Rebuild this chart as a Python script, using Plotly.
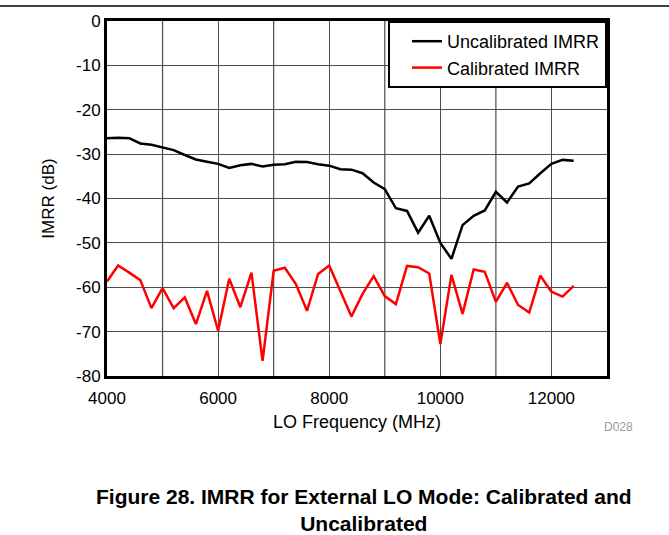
import plotly.graph_objects as go

freq_mhz = [4000, 4200, 4400, 4600, 4800, 5000, 5200, 5400, 5600, 5800,
            6000, 6200, 6400, 6600, 6800, 7000, 7200, 7400, 7600, 7800,
            8000, 8200, 8400, 8600, 8800, 9000, 9200, 9400, 9600, 9800,
            10000, 10200, 10400, 10600, 10800, 11000, 11200, 11400, 11600, 11800,
            12000, 12200, 12400]

uncalibrated_db = [-26.4, -26.3, -26.4, -27.6, -27.9, -28.5, -29.1, -30.2, -31.2, -31.7,
                   -32.2, -33.1, -32.5, -32.2, -32.8, -32.4, -32.3, -31.7, -31.8, -32.3,
                   -32.6, -33.4, -33.5, -34.3, -36.4, -37.9, -42.2, -42.8, -47.7, -43.9,
                   -50.0, -53.6, -46.0, -43.9, -42.7, -38.5, -40.9, -37.3, -36.6, -34.3,
                   -32.2, -31.3, -31.5]

calibrated_db = [-58.7, -55.1, -56.7, -58.4, -64.7, -60.2, -64.7, -62.3, -68.3, -60.8,
                 -69.8, -58.1, -64.5, -56.7, -76.6, -56.3, -55.6, -59.3, -65.3, -57.0,
                 -55.1, -61.0, -66.6, -61.5, -57.5, -62.0, -63.8, -55.2, -55.5, -56.9,
                 -72.8, -57.2, -66.0, -56.0, -56.5, -63.3, -59.0, -64.0, -65.7, -57.4,
                 -61.0, -62.1, -59.7]

x_ticks = [4000, 6000, 8000, 10000, 12000]
y_ticks = [0, -10, -20, -30, -40, -50, -60, -70, -80]

FONT = "Arial, Liberation Sans, sans-serif"
PL, PR, PT, PB = 107, 607, 21, 376   # plot-area pixel box
PW, PH = PR - PL, PB - PT

fig = go.Figure()
fig.add_trace(go.Scatter(x=freq_mhz, y=uncalibrated_db, mode="lines",
                         name="Uncalibrated IMRR",
                         line=dict(color="#000000", width=2.5)))
fig.add_trace(go.Scatter(x=freq_mhz, y=calibrated_db, mode="lines",
                         name="Calibrated IMRR",
                         line=dict(color="#ff0000", width=2.5)))

fig.update_layout(
    width=669, height=535,
    margin=dict(l=PL, r=669 - PR, t=PT, b=535 - PB),
    paper_bgcolor="white", plot_bgcolor="white",
    font=dict(family=FONT, size=17, color="#000000"),
    showlegend=True,
    legend=dict(x=1, y=1, xanchor="right", yanchor="top",
                bgcolor="white", bordercolor="#000000", borderwidth=2,
                font=dict(family=FONT, size=18, color="#000000"),
                tracegroupgap=0, itemwidth=30, indentation=17),
    xaxis=dict(range=[4000, 13000], tickvals=x_ticks,
               ticktext=[str(v) for v in x_ticks],
               showgrid=True, gridcolor="#4d4d4d", gridwidth=1.2,
               showline=True, linecolor="#000000", linewidth=3, mirror=True,
               ticks="", zeroline=False, ticklabelstandoff=5,
               tickfont=dict(family=FONT, size=17),
               title=dict(text="LO Frequency (MHz)", standoff=8,
                          font=dict(family=FONT, size=18))),
    yaxis=dict(range=[-80, 0], tickvals=y_ticks,
               ticktext=[str(v) if v == 0 else "-" + str(-v) for v in y_ticks],
               showgrid=True, gridcolor="#4d4d4d", gridwidth=1.2,
               showline=True, linecolor="#000000", linewidth=3, mirror=True,
               ticks="", zeroline=False,
               tickfont=dict(family=FONT, size=17),
               title=dict(text="IMRR (dB)", standoff=18,
                          font=dict(family=FONT, size=17))),
)

# intermediate vertical gridlines every 1000 MHz
for xv in range(5000, 13000, 2000):
    fig.add_vline(x=xv, line=dict(color="#4d4d4d", width=1.2), layer="below")

# top page rule
fig.add_shape(type="line", xref="paper", yref="paper",
              x0=-PL / PW, x1=(669 - PL) / PW,
              y0=1 + (PT - 6) / PH, y1=1 + (PT - 6) / PH,
              line=dict(color="#000000", width=1.5))

fig.add_annotation(text="D028", xref="paper", yref="paper",
                   x=(618 - PL) / PW, y=-(427 - PB) / PH,
                   showarrow=False, xanchor="center", yanchor="middle",
                   font=dict(family=FONT, size=12, color="#999999"))

fig.add_annotation(text="<b>Figure 28. IMRR for External LO Mode: Calibrated and<br>Uncalibrated</b>",
                   xref="paper", yref="paper",
                   x=(364 - PL) / PW, y=-(483 - PB) / PH,
                   showarrow=False, xanchor="center", yanchor="top",
                   align="center",
                   font=dict(family=FONT, size=21, color="#000000"))

fig.write_html("out.html", config={"displayModeBar": False},
               post_script="document.body.style.margin='0';")
